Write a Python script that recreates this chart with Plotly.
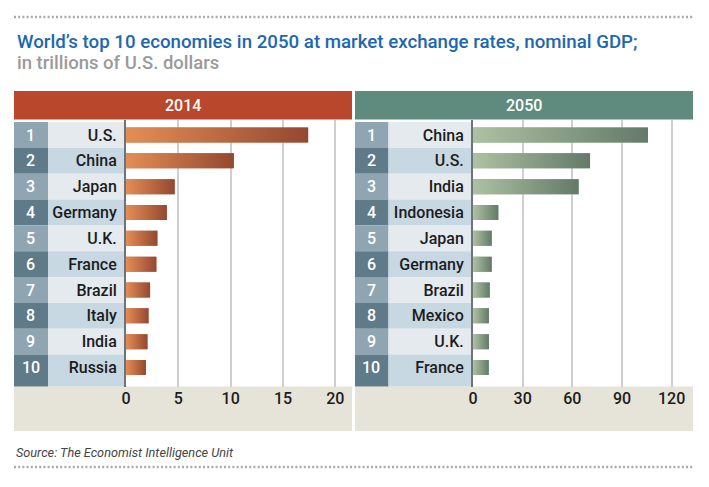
import plotly.graph_objects as go

ranks = ["1", "2", "3", "4", "5", "6", "7", "8", "9", "10"]
countries_2014 = ["U.S.", "China", "Japan", "Germany", "U.K.", "France", "Brazil", "Italy", "India", "Russia"]
values_2014 = [17.4, 10.3, 4.65, 3.9, 3.0, 2.9, 2.3, 2.15, 2.05, 1.9]
countries_2050 = ["China", "U.S.", "India", "Indonesia", "Japan", "Germany", "Brazil", "Mexico", "U.K.", "France"]
values_2050 = [105.7, 70.7, 63.8, 15.3, 11.3, 11.3, 10.1, 9.6, 9.6, 9.5]
ticks_2014 = [0, 5, 10, 15, 20]
ticks_2050 = [0, 30, 60, 90, 120]

W, H = 709, 487
FONT = "Roboto"
BAR_W = 0.58


def px(x):
    return x / W


def py(y):
    return 1 - y / H


fig = go.Figure()
shapes = []
annotations = []

PANELS = [
    dict(ax="", left=14, rank_r=48, zero=126, right=352, xmax=21.59, head="#b8472c", title="2014",
         vals=values_2014, names=countries_2014, ticks=ticks_2014,
         c0="rgb(228,142,86)", cm="rgb(188,106,66)", c1="rgb(148,72,48)"),
    dict(ax="2", left=355, rank_r=388.5, zero=473, right=693, xmax=132.9, head="#5f8b7e", title="2050",
         vals=values_2050, names=countries_2050, ticks=ticks_2050,
         c0="rgb(174,194,162)", cm="rgb(136,158,132)", c1="rgb(98,122,104)"),
]
TOP, BOTTOM, BAND_END, HEAD_TOP = 119.5, 386.5, 431, 91
RMIN, RMAX = -0.6, 9.735

for p in PANELS:
    ax = p["ax"]
    xa, ya = "x" + ax, "y" + ax
    # the bars themselves
    fig.add_trace(go.Bar(
        y=list(range(10)), x=p["vals"], orientation="h", width=BAR_W,
        marker=dict(color=p["cm"], line_width=0),
        xaxis=xa, yaxis=ya, showlegend=False, hoverinfo="skip",
    ))
    # each bar's left-to-right colour gradient, laid over it
    for i, v in enumerate(p["vals"]):
        y0, y1 = i - BAR_W / 2, i + BAR_W / 2
        fig.add_trace(go.Scatter(
            x=[0, v, v, 0, 0], y=[y0, y0, y1, y1, y0], mode="lines", line_width=0,
            fill="toself",
            fillgradient=dict(type="horizontal", colorscale=[[0, p["c0"]], [1, p["c1"]]]),
            xaxis=xa, yaxis=ya, showlegend=False, hoverinfo="skip",
        ))
    layout_x = dict(domain=[px(p["zero"]), px(p["right"])], range=[0, p["xmax"]],
                    tickvals=p["ticks"], showgrid=True, gridcolor="#cfcfcf", gridwidth=1.5,
                    zeroline=False, showline=False, ticks="", anchor=ya,
                    tickfont=dict(family=FONT, size=16, color="#1c1c1c", weight=500))
    layout_y = dict(domain=[py(BOTTOM), py(TOP)], range=[RMAX, RMIN],
                    tickvals=list(range(10)), ticktext=p["names"], showgrid=False,
                    zeroline=False, showline=True, linecolor="#6d7479", linewidth=2, ticks="",
                    ticklabelstandoff=4, anchor=xa,
                    tickfont=dict(family=FONT, size=16, color="#1c1c1c", weight=500))
    fig.update_layout({"xaxis" + ax: layout_x, "yaxis" + ax: layout_y})

    # header
    shapes.append(dict(type="rect", xref="paper", yref="paper", x0=px(p["left"]), x1=px(p["right"]),
                       y0=py(TOP), y1=py(HEAD_TOP), fillcolor=p["head"], line_width=0, layer="below"))
    annotations.append(dict(text=p["title"], xref="paper", yref="paper", showarrow=False,
                            x=px((p["left"] + p["right"]) / 2 - 0.5), y=py(105.5), xanchor="center", yanchor="middle",
                            font=dict(family=FONT, size=16, color="white", weight=500)))
    # tan band below the rows
    shapes.append(dict(type="rect", xref="paper", yref="paper", x0=px(p["left"]), x1=px(p["right"]),
                       y0=py(BAND_END), y1=py(BOTTOM), fillcolor="#e6e3d9", line_width=0, layer="below"))
    # rows
    for i, r in enumerate(ranks):
        a = max(i - 0.5, RMIN)
        b = i + 0.5 if i < 9 else RMAX
        y_top = TOP + (a - RMIN) / (RMAX - RMIN) * (BOTTOM - TOP)
        y_bot = TOP + (b - RMIN) / (RMAX - RMIN) * (BOTTOM - TOP)
        light = i % 2 == 0
        shapes.append(dict(type="rect", xref="paper", yref="paper", x0=px(p["left"]), x1=px(p["rank_r"]),
                           y0=py(y_bot), y1=py(y_top), fillcolor="#90a5b2" if light else "#5f7a89",
                           line_width=0, layer="below"))
        shapes.append(dict(type="rect", xref="paper", yref="paper", x0=px(p["rank_r"]), x1=px(p["zero"]),
                           y0=py(y_bot), y1=py(y_top), fillcolor="#e4eaee" if light else "#c8d8e3",
                           line_width=0, layer="below"))
        annotations.append(dict(text=r, xref="paper", yref=ya, showarrow=False,
                                x=px((p["left"] + p["rank_r"]) / 2 - 0.5), y=i, xanchor="center", yanchor="middle",
                                font=dict(family=FONT, size=16, color="white", weight=500)))

for yy in (17, 467):
    shapes.append(dict(type="line", xref="paper", yref="paper", x0=px(14), x1=px(693), y0=py(yy), y1=py(yy),
                       line=dict(color="#aaaaaa", width=2.5, dash="2px 2.2px")))

annotations.append(dict(text="World’s top 10 economies in 2050 at market exchange rates, nominal GDP;",
                        xref="paper", yref="paper", x=px(14.5), y=py(42), xanchor="left", yanchor="middle",
                        showarrow=False, font=dict(family=FONT, size=18.7, color="#1c68b0", weight=500)))
annotations.append(dict(text="in trillions of U.S. dollars", xref="paper", yref="paper", x=px(15), y=py(63),
                        xanchor="left", yanchor="middle", showarrow=False,
                        font=dict(family=FONT, size=18.5, color="#9a9a9a", weight=500)))
annotations.append(dict(text="<i>Source: The Economist Intelligence Unit</i>", xref="paper", yref="paper",
                        x=px(14), y=py(452), xanchor="left", yanchor="middle", showarrow=False,
                        font=dict(family=FONT, size=12.7, color="#444444")))

fig.update_layout(width=W, height=H, margin=dict(l=0, r=0, t=0, b=0, autoexpand=False), barmode="overlay",
                  paper_bgcolor="white", plot_bgcolor="rgba(0,0,0,0)", shapes=shapes, annotations=annotations)
fig.write_html("out.html", config={"displayModeBar": False},
               post_script="document.body.style.margin='0';")
